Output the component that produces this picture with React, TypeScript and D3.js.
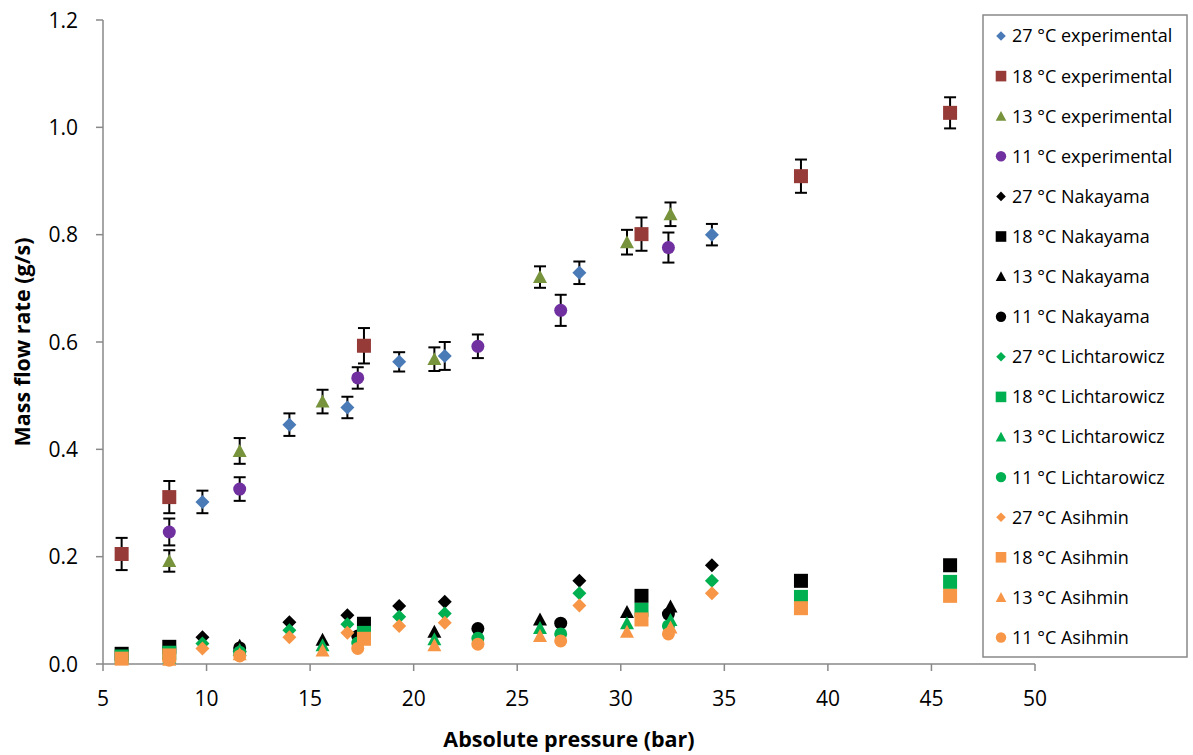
import React from "react";
import * as d3 from "d3";

// ---------- data ----------
const xTicks = [5, 10, 15, 20, 25, 30, 35, 40, 45, 50];
const yTicks = [0, 0.2, 0.4, 0.6, 0.8, 1.0, 1.2];

const p27 = [9.8, 14.0, 16.8, 19.3, 21.5, 28.0, 34.4];
const p18 = [5.9, 8.2, 17.6, 31.0, 38.7, 45.9];
const p13 = [8.2, 11.6, 15.6, 21.0, 26.1, 30.3, 32.4];
const p11 = [8.2, 11.6, 17.3, 23.1, 27.1, 32.3];

const exp27 = [0.302, 0.446, 0.478, 0.563, 0.574, 0.729, 0.800];
const exp27Err = [0.021, 0.021, 0.020, 0.018, 0.026, 0.021, 0.020];
const exp18 = [0.205, 0.311, 0.593, 0.801, 0.909, 1.027];
const exp18Err = [0.030, 0.030, 0.033, 0.031, 0.031, 0.029];
const exp13 = [0.192, 0.397, 0.489, 0.568, 0.721, 0.786, 0.838];
const exp13Err = [0.020, 0.024, 0.022, 0.022, 0.020, 0.023, 0.022];
const exp11 = [0.246, 0.326, 0.533, 0.592, 0.659, 0.776];
const exp11Err = [0.025, 0.022, 0.020, 0.022, 0.029, 0.028];

const nak27 = [0.050, 0.078, 0.091, 0.108, 0.116, 0.155, 0.184];
const nak18 = [0.019, 0.032, 0.075, 0.127, 0.155, 0.184];
const nak13 = [0.020, 0.034, 0.045, 0.060, 0.083, 0.097, 0.107];
const nak11 = [0.020, 0.030, 0.052, 0.066, 0.076, 0.093];

const lic27 = [0.038, 0.063, 0.074, 0.088, 0.094, 0.132, 0.155];
const lic18 = [0.014, 0.021, 0.058, 0.101, 0.125, 0.153];
const lic13 = [0.012, 0.026, 0.035, 0.046, 0.067, 0.076, 0.082];
const lic11 = [0.012, 0.022, 0.039, 0.048, 0.056, 0.071];

const asi27 = [0.029, 0.050, 0.058, 0.071, 0.077, 0.109, 0.132];
const asi18 = [0.010, 0.016, 0.047, 0.083, 0.104, 0.127];
const asi13 = [0.008, 0.018, 0.025, 0.035, 0.052, 0.060, 0.068];
const asi11 = [0.007, 0.015, 0.029, 0.037, 0.043, 0.056];

type Shape = "diamond" | "square" | "triangle" | "circle";
interface Series {
  name: string;
  xs: number[];
  ys: number[];
  err?: number[];
  shape: Shape;
  color: string;
}

const BLUE = "#4A7BB7";
const RED = "#963B38";
const OLIVE = "#77933C";
const PURPLE = "#7030A0";
const BLACK = "#000000";
const GREEN = "#00B050";
const ORANGE = "#F79646";

const series: Series[] = [
  { name: "27 °C experimental", xs: p27, ys: exp27, err: exp27Err, shape: "diamond", color: BLUE },
  { name: "18 °C experimental", xs: p18, ys: exp18, err: exp18Err, shape: "square", color: RED },
  { name: "13 °C experimental", xs: p13, ys: exp13, err: exp13Err, shape: "triangle", color: OLIVE },
  { name: "11 °C experimental", xs: p11, ys: exp11, err: exp11Err, shape: "circle", color: PURPLE },
  { name: "27 °C Nakayama", xs: p27, ys: nak27, shape: "diamond", color: BLACK },
  { name: "18 °C Nakayama", xs: p18, ys: nak18, shape: "square", color: BLACK },
  { name: "13 °C Nakayama", xs: p13, ys: nak13, shape: "triangle", color: BLACK },
  { name: "11 °C Nakayama", xs: p11, ys: nak11, shape: "circle", color: BLACK },
  { name: "27 °C Lichtarowicz", xs: p27, ys: lic27, shape: "diamond", color: GREEN },
  { name: "18 °C Lichtarowicz", xs: p18, ys: lic18, shape: "square", color: GREEN },
  { name: "13 °C Lichtarowicz", xs: p13, ys: lic13, shape: "triangle", color: GREEN },
  { name: "11 °C Lichtarowicz", xs: p11, ys: lic11, shape: "circle", color: GREEN },
  { name: "27 °C Asihmin", xs: p27, ys: asi27, shape: "diamond", color: ORANGE },
  { name: "18 °C Asihmin", xs: p18, ys: asi18, shape: "square", color: ORANGE },
  { name: "13 °C Asihmin", xs: p13, ys: asi13, shape: "triangle", color: ORANGE },
  { name: "11 °C Asihmin", xs: p11, ys: asi11, shape: "circle", color: ORANGE },
];

// ---------- layout ----------
const W = 1193;
const H = 755;
const X0 = 103;
const X1 = 1035;
const Y0 = 664;
const Y1 = 20;
const AXIS = "#898989";
const FONT = "'Open Sans', 'Noto Sans', sans-serif";

function markerPath(shape: Shape, r: number): string {
  switch (shape) {
    case "diamond":
      return `M0,${-r}L${r},0L0,${r}L${-r},0Z`;
    case "square":
      return `M${-r},${-r}H${r}V${r}H${-r}Z`;
    case "triangle":
      return `M0,${-r}L${r},${r * 0.85}L${-r},${r * 0.85}Z`;
    case "circle":
    default:
      return d3.arc()({ innerRadius: 0, outerRadius: r, startAngle: 0, endAngle: 2 * Math.PI }) as string;
  }
}

const sizeFor: Record<Shape, number> = { diamond: 7, square: 7, triangle: 7, circle: 6.5 };
const legSize: Record<Shape, number> = { diamond: 4.8, square: 5.3, triangle: 5.3, circle: 5.2 };

export default function App() {
  const x = d3.scaleLinear().domain([5, 50]).range([X0, X1]);
  const y = d3.scaleLinear().domain([0, 1.2]).range([Y0, Y1]);
  const fmt = d3.format(".1f");

  const legX = 983;
  const legY = 15;
  const legW = 204;
  const legH = 642;
  const rowH = 40.1;

  return (
    <svg width={W} height={H} style={{ position: "absolute", left: 0, top: 0, background: "#fff" }}>
      <rect x={0} y={0} width={W} height={H} fill="#fff" />
      {/* axes */}
      <line x1={X0} x2={X0} y1={Y1} y2={Y0} stroke={AXIS} strokeWidth={1.5} />
      <line x1={X0} x2={X1} y1={Y0} y2={Y0} stroke={AXIS} strokeWidth={1.5} />
      {yTicks.map((t) => (
        <g key={"y" + t}>
          <line x1={X0 - 7} x2={X0} y1={y(t)} y2={y(t)} stroke={AXIS} strokeWidth={1.5} />
          <text x={78} y={y(t)} dy="0.36em" textAnchor="end" fontFamily={FONT} fontSize={21} fill="#000">
            {fmt(t)}
          </text>
        </g>
      ))}
      {xTicks.map((t) => (
        <g key={"x" + t}>
          <line x1={x(t)} x2={x(t)} y1={Y0} y2={Y0 + 7} stroke={AXIS} strokeWidth={1.5} />
          <text x={x(t)} y={706} textAnchor="middle" fontFamily={FONT} fontSize={21} fill="#000">
            {t}
          </text>
        </g>
      ))}
      <text
        transform={`translate(30,${(Y0 + Y1) / 2}) rotate(-90)`}
        textAnchor="middle"
        fontFamily={FONT}
        fontWeight="bold"
        fontSize={21.5}
        fill="#000"
      >
        Mass flow rate (g/s)
      </text>
      <text x={569} y={747} textAnchor="middle" fontFamily={FONT} fontWeight="bold" fontSize={21.5} fill="#000">
        Absolute pressure (bar)
      </text>

      {/* series */}
      {series.map((s) => (
        <g key={s.name}>
          {s.err &&
            s.xs.map((xv, i) => {
              const cx = x(xv);
              const top = y(s.ys[i] + s.err![i]);
              const bot = y(s.ys[i] - s.err![i]);
              return (
                <g key={"e" + i} stroke="#000" strokeWidth={2}>
                  <line x1={cx} x2={cx} y1={top} y2={bot} />
                  <line x1={cx - 6} x2={cx + 6} y1={top} y2={top} />
                  <line x1={cx - 6} x2={cx + 6} y1={bot} y2={bot} />
                </g>
              );
            })}
          {s.xs.map((xv, i) => (
            <path
              key={"m" + i}
              d={markerPath(s.shape, sizeFor[s.shape])}
              transform={`translate(${x(xv)},${y(s.ys[i])})`}
              fill={s.color}
            />
          ))}
        </g>
      ))}

      {/* legend */}
      <rect x={legX} y={legY} width={legW} height={legH} fill="#fff" stroke={AXIS} strokeWidth={1.5} />
      {series.map((s, i) => {
        const cy = legY + 21 + i * rowH;
        return (
          <g key={"l" + s.name}>
            <path d={markerPath(s.shape, legSize[s.shape])} transform={`translate(1001,${cy})`} fill={s.color} />
            <text x={1012} y={cy} dy="0.36em" fontFamily={FONT} fontSize={18} fill="#000">
              {s.name}
            </text>
          </g>
        );
      })}
    </svg>
  );
}
